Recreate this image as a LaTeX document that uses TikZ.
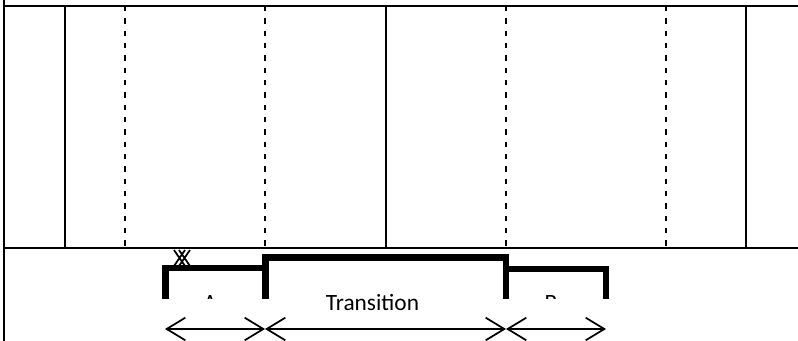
\documentclass[tikz,border=0pt]{standalone}
\usepackage{fontspec}
\setmainfont{Carlito}
\usetikzlibrary{arrows.meta}
\tikzset{
	frame line/.style={line width=1.5pt},
	grid line/.style={line width=1.1pt},
	guide line/.style={line width=1.3pt, dash pattern=on 4pt off 5.25pt},
	phase bar/.style={line width=5.2pt, line cap=butt, line join=miter},
	span arrow/.style={line width=1.3pt, {Straight Barb[length=14pt,width=17pt]}-{Straight Barb[length=14pt,width=17pt]}},
	phase label/.style={font=\fontsize{17.5}{20}\selectfont, anchor=base, inner sep=0pt}}
\tikzset{every picture/.style={line width=0.75pt}}

\begin{document}
\begin{tikzpicture}[x=0.75pt,y=0.75pt,yscale=-1,xscale=1]
	\useasboundingbox (0,0) rectangle (798,341);

	%Frame
	\draw [frame line] (4,0) -- (4,341) ;
	\draw [frame line] (4,6) -- (798,6) ;
	\draw [grid line] (4,248) -- (798,248) ;
	%Solid Lines
	\foreach \xx in {65,386,746}
		\draw [grid line] (\xx,6) -- (\xx,248) ;
	%Dashed Lines
	\foreach \xx in {125,265,506,666}
		\draw [guide line] (\xx,6) -- (\xx,246) ;

	%Phase bars
	\draw [phase bar] (165.5,299) -- (165.5,268) -- (265.5,268) -- (265.5,299) ;
	\draw [phase bar] (265.5,268) -- (265.5,257.5) -- (506,257.5) -- (506,299) ;
	\draw [phase bar] (506,269) -- (606,269) -- (606,299) ;
	%Cross mark
	\draw [line width=1.3pt] (174,250) -- (185,266) (185,250) -- (174,266) (179,250) -- (190,266) (190,250) -- (179,266) ;

	% Text Node
	\begin{scope}
		\clip (150,280) rectangle (620,299);
		\node [phase label] (labA) at (210,311) {A};
		\node [phase label] (labB) at (551,311) {B};
	\end{scope}
	% Text Node
	\begin{scope}
		\clip (300,280) rectangle (470,311);
		\node [phase label] (labT) at (372.5,311) {Transition};
	\end{scope}

	%Span arrows
	\coordinate (sA) at (165,329) ;
	\coordinate (sT) at (265,329) ;
	\coordinate (sB) at (506,329) ;
	\coordinate (sE) at (606,329) ;
	\draw [span arrow] (sA) -- (sT) ;
	\draw [span arrow] (sT) -- (sB) ;
	\draw [span arrow] (sB) -- (sE) ;
\end{tikzpicture}
\end{document}
